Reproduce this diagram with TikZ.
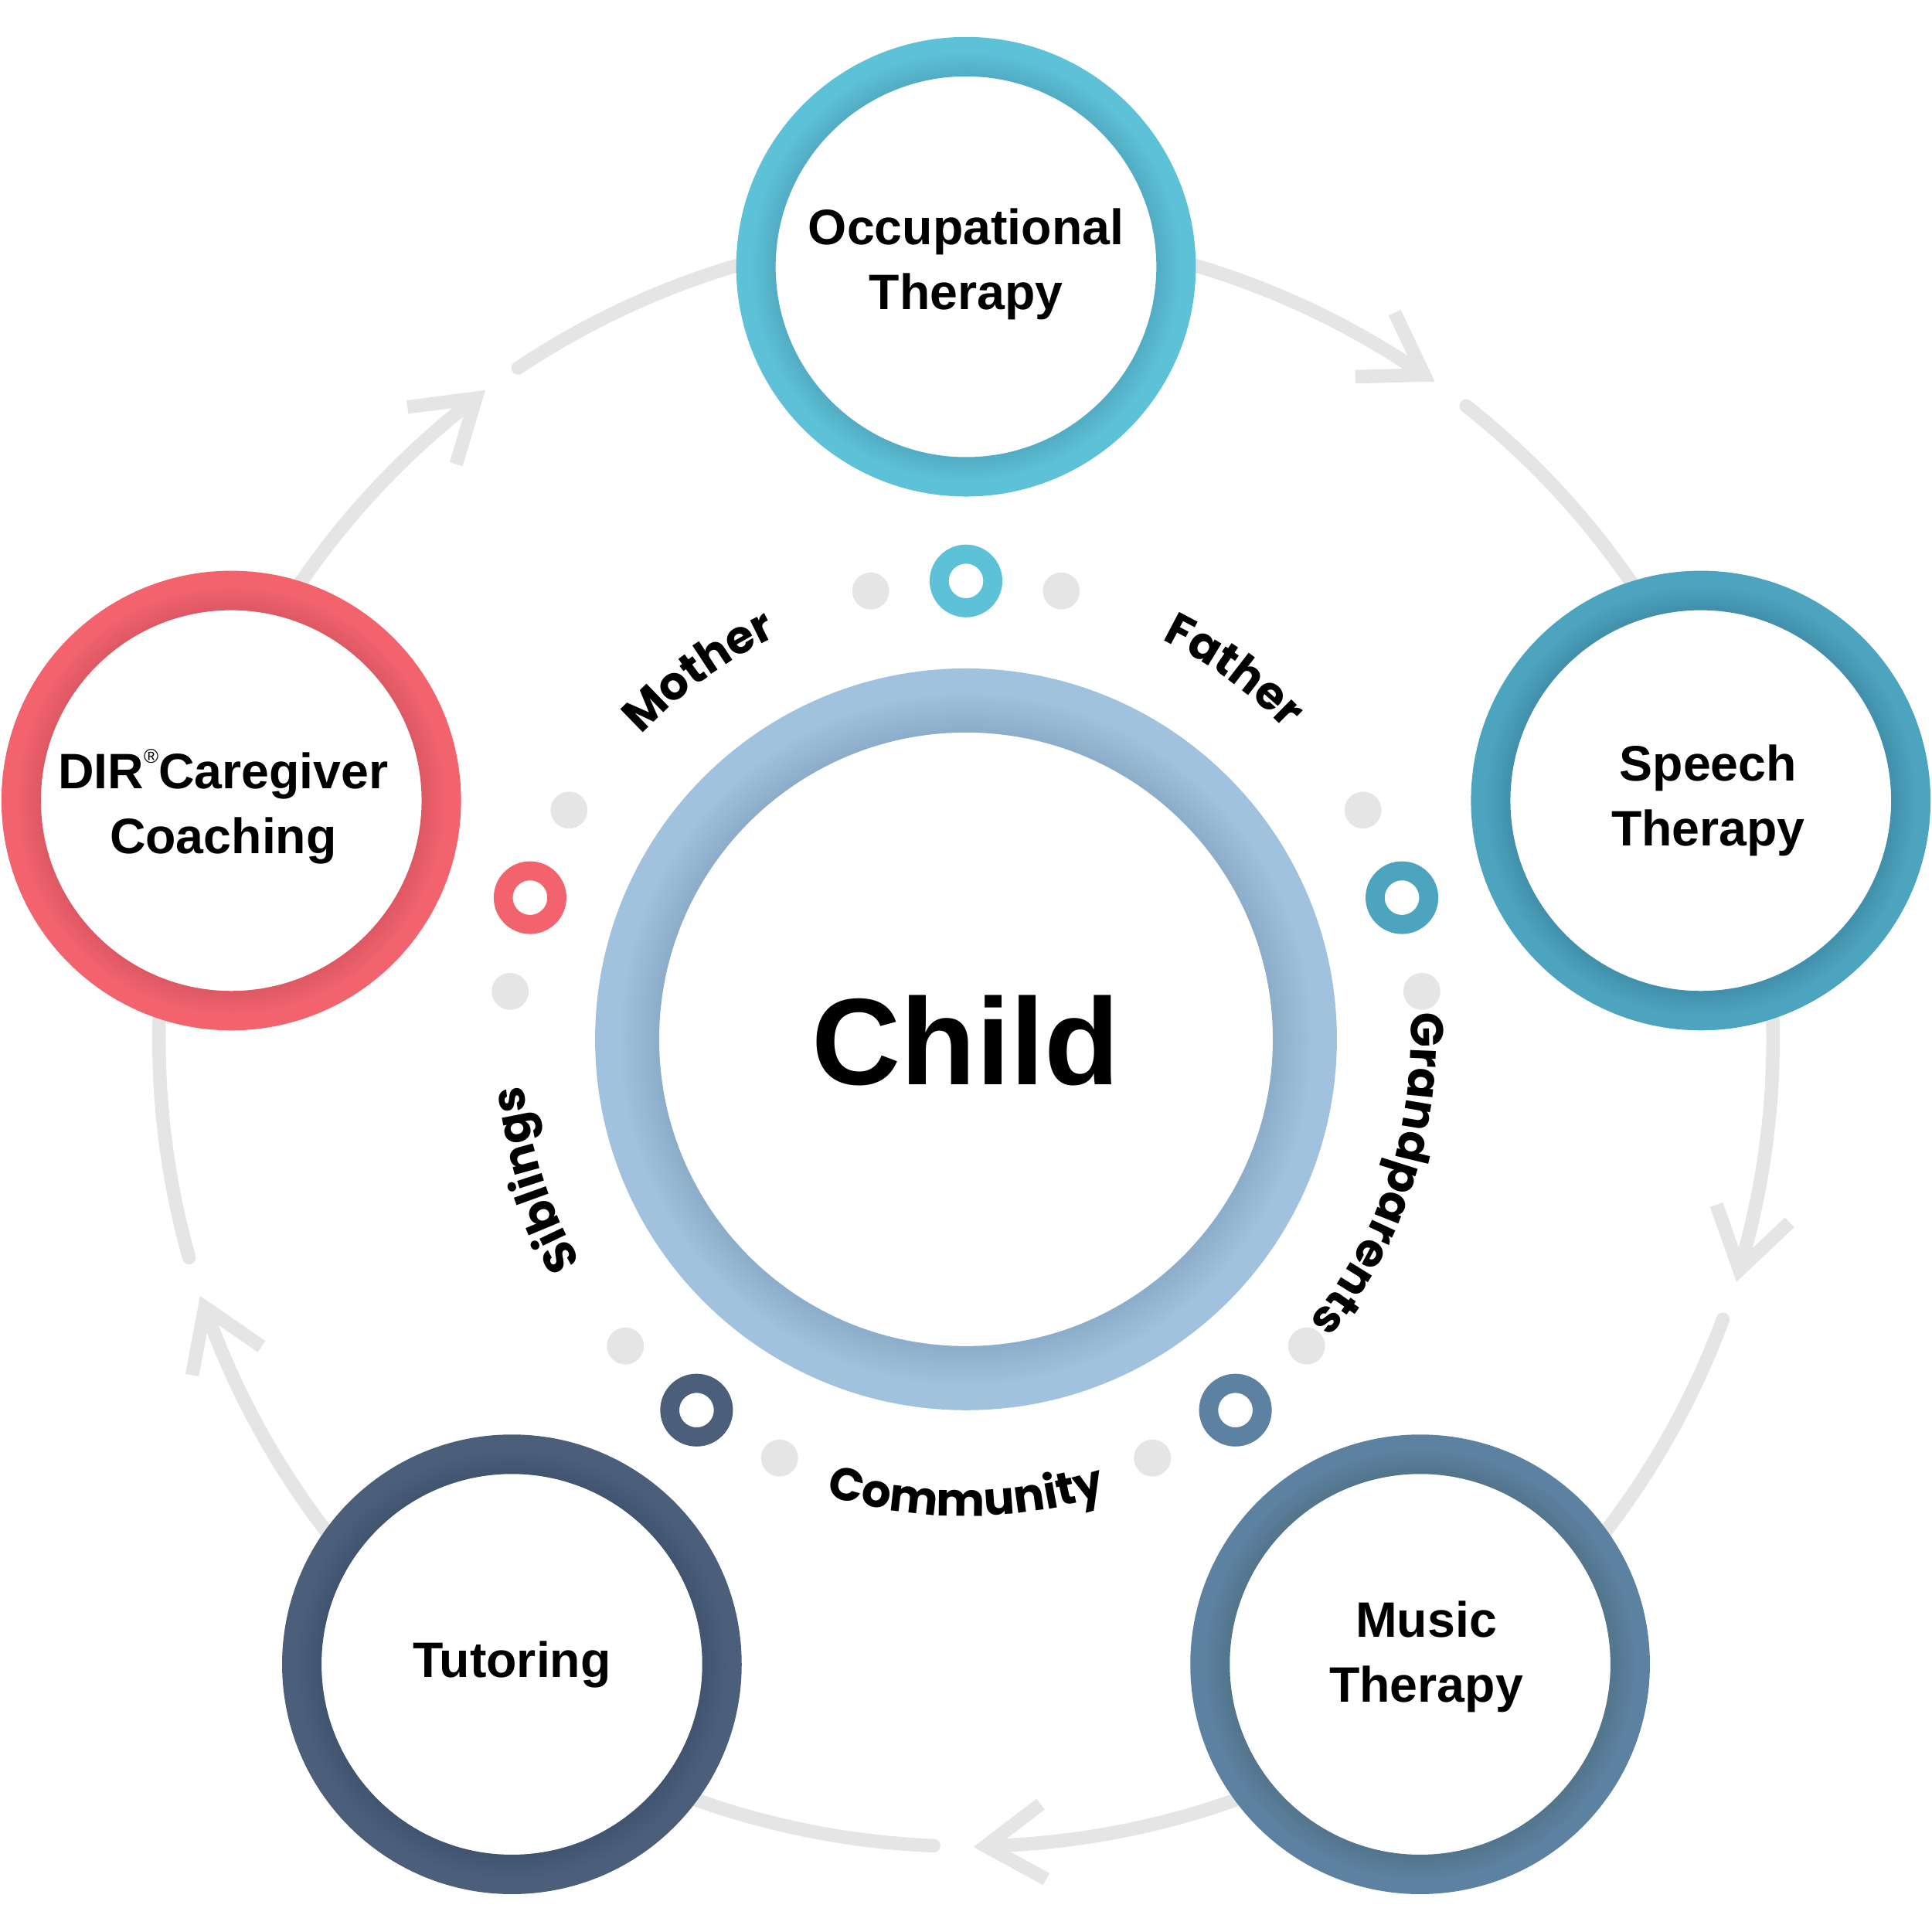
\documentclass[tikz,border=0pt]{standalone}
\usepackage{fontspec}
\setmainfont{Liberation Sans}
\newfontfamily\lblfont{Poppins}
\newcommand\lblfmt{\lblfont\bfseries\fontsize{10.6}{13}\selectfont}
\usetikzlibrary{decorations.text}
\definecolor{OTc}{RGB}{93,193,216}
\definecolor{SPc}{RGB}{76,164,191}
\definecolor{DIRc}{RGB}{242,99,110}
\definecolor{TUc}{RGB}{75,95,122}
\definecolor{MUc}{RGB}{93,129,161}
\definecolor{CHc}{RGB}{161,194,223}
\definecolor{GRc}{RGB}{229,229,229}
\newcommand\ringshade[3]{%
  \foreach \k in {1,...,10}{%
    \draw[black, opacity=0.008, line width={\k*0.06*#3*1cm}] (#1) circle[radius={#2+\k*0.03*#3}];
  }%
}
\tikzset{
  bigring/.style={circle, draw=#1, line width=0.32cm, fill=white, minimum size=3.41cm, inner sep=0pt},
  bigtxt/.style={align=center, inner sep=0pt, font=\fontsize{11.5}{15}\selectfont\bfseries},
  dotring/.style={circle, draw=#1, line width=0.155cm, fill=white, minimum size=0.435cm, inner sep=0pt},
  graydot/.style={circle, fill=GRc, minimum size=0.30cm, inner sep=0pt},
  flow/.style={draw=GRc, line width=0.11cm},
  chev/.style={draw=GRc, line width=0.11cm, line join=miter, line cap=butt},
  lbl/.style={decorate, decoration={text along path, text align=center, text={|\lblfmt|#1}}},
}
\begin{document}
\begin{tikzpicture}
\useasboundingbox (-7.84,-7.245) rectangle (7.84,8.435);
\coordinate (c0) at (0,0);
% clockwise flow connectors
\foreach \a/\b in {90/18, 18/-54, -54/-126, -126/-198, 162/90}{
  \pgfmathsetmacro\tA{\a-34.6}
  \pgfmathsetmacro\rA{\a-38.3}
  \coordinate (tip\a) at (\tA:6.55);
  \draw[flow] (\a:6.55) arc[start angle=\a, end angle=\tA, radius=6.55];
  \draw[chev] (tip\a) ++(\tA+126:0.56) -- (tip\a) -- ++(\tA+60:0.56);
  \draw[flow, line cap=round] (\rA:6.55) arc[start angle=\rA, end angle=\b, radius=6.55];
}
% outer circles
\node[bigring=OTc]  (ot)  at (90:6.27)  {};
\node[bigring=SPc]  (sp)  at (18:6.27)  {};
\node[bigring=DIRc] (dir) at (162:6.27) {};
\node[bigring=TUc]  (tu)  at (234:6.27) {};
\node[bigring=MUc]  (mu)  at (306:6.27) {};
\ringshade{ot.center}{1.545}{0.32}
\ringshade{sp.center}{1.545}{0.32}
\ringshade{dir.center}{1.545}{0.32}
\ringshade{tu.center}{1.545}{0.32}
\ringshade{mu.center}{1.545}{0.32}
\node[bigtxt] (ottxt)  at ([yshift=0.02cm]ot.center) {Occupational\\Therapy};
\node[bigtxt] (sptxt)  at ([xshift=0.06cm]sp.center) {Speech\\Therapy};
\node[bigtxt] (dirtxt) at ([xshift=-0.065cm,yshift=-0.05cm]dir.center) {DIR\raisebox{6pt}{\fontsize{4.6}{5}\selectfont\mdseries ®}Caregiver\\Coaching};
\node[bigtxt] (tutxt)  at (tu.center) {Tutoring};
\node[bigtxt] (mutxt)  at ([xshift=0.05cm,yshift=0.06cm]mu.center) {Music\\Therapy};
% child ring
\node[circle, draw=CHc, line width=0.52cm, minimum size=5.5cm, fill=white, inner sep=0pt] (child) at (c0) {};
\ringshade{child.center}{2.49}{0.52}
\node[anchor=base, inner sep=0pt, font=\fontsize{28.45}{34}\selectfont\bfseries] (childtxt) at (0,-0.365) {Child};
% dots
\node[dotring=OTc]  (d1) at (90:3.72) {};
\node[dotring=SPc]  (d2) at (18:3.72) {};
\node[dotring=DIRc] (d3) at (162:3.72) {};
\node[dotring=TUc]  (d4) at (234:3.72) {};
\node[dotring=MUc]  (d5) at (306:3.72) {};
\foreach \g in {102,78,30,6,174,150,246,222,318,294}{
  \node[graydot] (g\g) at (\g:3.72) {};
}
% relation labels
\path[lbl=Mother] (161:3.61) arc[start angle=161, end angle=91, radius=3.61];
\path[lbl=Father] (89:3.61) arc[start angle=89, end angle=19, radius=3.61];
\path[lbl=Grandparents] (17:3.61) arc[start angle=17, end angle=-53, radius=3.61];
\path[lbl=Siblings] (233:3.61) arc[start angle=233, end angle=163, radius=3.61];
\path[lbl=Community] (235:3.87) arc[start angle=235, end angle=305, radius=3.87];
\end{tikzpicture}
\end{document}
